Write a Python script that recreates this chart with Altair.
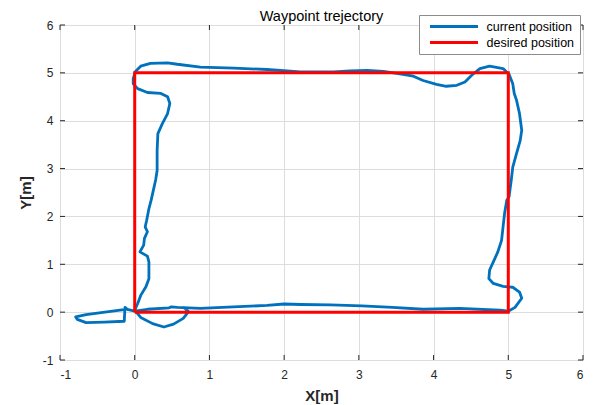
import altair as alt
import pandas as pd

# ---- data ----
cur_x = [-0.12, -0.45, -0.65, -0.79, -0.77, -0.65, -0.41, -0.14, -0.13, -0.10, 0.00,
         0.17, 0.46, 0.49, 0.57, 0.88, 1.32, 1.77, 2.00, 2.22, 2.62, 3.04, 3.45, 3.86,
         4.35, 4.89, 5.00, 5.09, 5.18, 5.15, 5.06, 4.93, 4.80, 4.74, 4.75, 4.80, 4.86,
         4.91, 4.93, 4.95, 4.98, 5.01, 5.04, 5.06, 5.11, 5.16, 5.18, 5.15, 5.11, 5.08,
         5.06, 5.01, 4.93, 4.75, 4.62, 4.51, 4.42, 4.31, 4.17, 4.04, 3.86, 3.73, 3.55,
         3.33, 3.11, 2.88, 2.66, 2.22, 1.77, 1.33, 0.88, 0.57, 0.44, 0.21, 0.08, 0.01,
         -0.02, -0.02, 0.04, 0.17, 0.35, 0.44, 0.47, 0.44, 0.37, 0.31, 0.30, 0.30, 0.28,
         0.25, 0.22, 0.19, 0.16, 0.14, 0.17, 0.13, 0.12, 0.07, 0.17, 0.19, 0.19, 0.15,
         0.08, 0.04, 0.00, 0.08, 0.24, 0.39, 0.52, 0.65, 0.72, 0.66]
cur_y = [0.06, -0.01, -0.05, -0.10, -0.15, -0.22, -0.21, -0.19, 0.10, 0.06, 0.02,
         0.06, 0.09, 0.11, 0.10, 0.08, 0.11, 0.14, 0.17, 0.16, 0.15, 0.13, 0.10, 0.06,
         0.08, 0.04, 0.02, 0.10, 0.29, 0.42, 0.52, 0.54, 0.60, 0.70, 0.88, 1.05, 1.26,
         1.50, 1.78, 2.06, 2.34, 2.41, 2.76, 3.03, 3.31, 3.59, 3.80, 4.15, 4.43, 4.57,
         4.77, 4.97, 5.09, 5.14, 5.09, 4.95, 4.81, 4.74, 4.72, 4.76, 4.84, 4.93, 4.98,
         5.03, 5.05, 5.04, 5.02, 5.02, 5.07, 5.10, 5.12, 5.18, 5.21, 5.20, 5.14, 5.03,
         4.88, 4.77, 4.67, 4.59, 4.57, 4.50, 4.36, 4.15, 3.94, 3.73, 3.38, 2.96, 2.76,
         2.55, 2.34, 2.16, 1.92, 1.78, 1.68, 1.54, 1.40, 1.26, 1.17, 1.05, 0.70, 0.53,
         0.35, 0.18, 0.04, -0.11, -0.24, -0.31, -0.25, -0.13, 0.01, 0.09]
des_x = [0, 0, 5, 5, 0]
des_y = [0, 5, 5, 0, 0]
ticks = [-1, 0, 1, 2, 3, 4, 5, 6]
series = ["current position", "desired position"]
colors = ["#0072BD", "#FF0000"]

W, H = 523, 335
FONT = "Liberation Sans"

cur = pd.DataFrame({"x": cur_x, "y": cur_y, "i": list(range(len(cur_x))), "s": series[0]})
des = pd.DataFrame({"x": des_x, "y": des_y, "i": list(range(len(des_x))), "s": series[1]})
tk = pd.DataFrame({"x": ticks, "y": ticks})

xs = alt.Scale(domain=[-1, 6], nice=False, zero=False)
ys = alt.Scale(domain=[-1, 6], nice=False, zero=False)

xaxis = alt.Axis(values=ticks, title="X[m]", grid=True, ticks=False, domain=False,
                 labelExpr="'' + datum.value",
                 labelPadding=9, labelFontSize=12, labelFont=FONT, labelColor="#262626",
                 titleFont=FONT, titleFontSize=15, titleFontWeight="bold", titleColor="#262626",
                 titleX=W / 2, titleY=40, titleBaseline="alphabetic")
yaxis = alt.Axis(values=ticks, title="Y[m]", grid=True, ticks=False, domain=False,
                 labelExpr="'' + datum.value",
                 labelPadding=7, labelFontSize=12, labelFont=FONT, labelColor="#262626",
                 titleFont=FONT, titleFontSize=15, titleFontWeight="bold", titleColor="#262626",
                 titleX=-30, titleY=H / 2, titleBaseline="alphabetic", titleAngle=270)

color = alt.Color("s:N", scale=alt.Scale(domain=series, range=colors),
                  legend=alt.Legend(title=None, orient="none", legendX=359, legendY=-10,
                                    symbolType="stroke", symbolSize=2304, symbolStrokeWidth=3,
                                    clipHeight=13, rowPadding=3, padding=5, symbolOffset=4.5,
                                    labelOffset=7, labelFont=FONT, labelFontSize=12.5,
                                    labelColor="black", fillColor="white",
                                    strokeColor="#8c8c8c", cornerRadius=0))

X = alt.X("x:Q", scale=xs, axis=xaxis)
Y = alt.Y("y:Q", scale=ys, axis=yaxis)

blue = alt.Chart(cur).mark_line(strokeWidth=2.8, strokeJoin="round", strokeCap="round").encode(
    x=X, y=Y, order="i:Q", color=color)
red = alt.Chart(des).mark_line(strokeWidth=3, strokeJoin="miter").encode(
    x=X, y=Y, order="i:Q", color=color)

tick_base = alt.Chart(tk).mark_rule(color="#262626", strokeWidth=1)
t_bottom = tick_base.encode(x=X, y=alt.value(H), y2=alt.value(H - 5))
t_top = tick_base.encode(x=X, y=alt.value(0), y2=alt.value(5))
t_left = tick_base.encode(y=Y, x=alt.value(0), x2=alt.value(5))
t_right = tick_base.encode(y=Y, x=alt.value(W), x2=alt.value(W - 5))

chart = alt.layer(blue, red, t_bottom, t_top, t_left, t_right).properties(
    width=W, height=H,
    title=alt.TitleParams("Waypoint trejectory", font=FONT, fontSize=14.5, fontWeight="normal",
                          color="black", anchor="middle", offset=6, dy=16),
    autosize=alt.AutoSizeParams(type="none"),
    padding={"left": 60, "top": 25, "right": 11, "bottom": 45},
).configure_view(stroke="#404040", strokeWidth=1).configure_axis(
    gridColor="#e3e3e3", gridWidth=1).configure(background="white")

chart.save("out.html", embed_options={"renderer": "svg", "actions": False})
